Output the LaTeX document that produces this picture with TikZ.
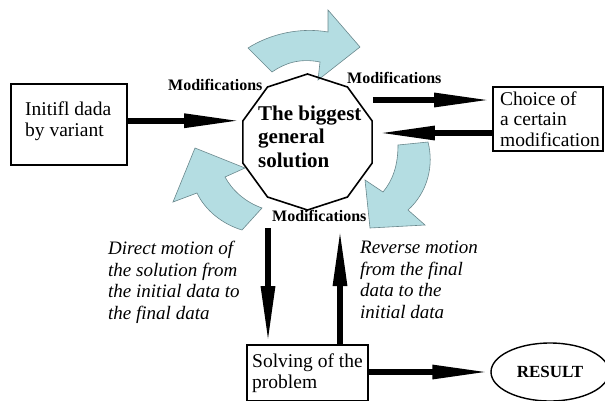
\documentclass[tikz,border=0pt]{standalone}
\usepackage{fontspec}
\setmainfont{Liberation Serif}
\usetikzlibrary{arrows.meta,shapes.geometric}
\definecolor{flow}{RGB}{180,221,226}
\definecolor{flowline}{RGB}{105,135,140}
\begin{document}
\begin{tikzpicture}[x=1pt,y=-1pt,
  box/.style={draw,line width=1.6pt,inner sep=0pt,minimum width=#1},
  txt/.style={font=\fontsize{19.5}{20.5}\selectfont,align=left,inner sep=0pt,anchor=base west},
  note/.style={font=\fontsize{19}{21.5}\selectfont\itshape,align=left,inner sep=0pt,anchor=base west},
  modlabel/.style={font=\fontsize{16}{18}\selectfont\bfseries,inner sep=0pt,anchor=base west},
  bigarrow/.style={line width=6pt,-{Triangle[length=58pt,width=13pt]}},
  flowarrow/.style={fill=flow,draw=flowline,line width=0.6pt,line join=miter}]
\useasboundingbox (0,0) rectangle (605,400);

% light blue circular arrows
\path[flowarrow] (248,48) .. controls (270,34) and (300,27) .. (328,32)
  -- (328,10) -- (360,47) -- (318,80) -- (320,62)
  .. controls (300,58) and (285,63) .. (272,72) -- cycle;
\path[flowarrow] (428,142) .. controls (434,165) and (428,192) .. (408,210)
  -- (425,225) -- (370,228) -- (365,180) -- (383,192)
  .. controls (393,180) and (398,165) .. (398,145) -- cycle;
\path[flowarrow] (262,208) .. controls (245,202) and (232,190) .. (225,177)
  -- (245,168) -- (195,148) -- (173,202) -- (197,193)
  .. controls (205,210) and (222,224) .. (242,230) -- cycle;

% central decagon
\node[draw,line width=1.6pt,regular polygon,regular polygon sides=10,
  regular polygon rotate=18,minimum size=136pt,inner sep=0pt] (poly) at (307.5,142) {};
\node[font=\fontsize{21}{23.5}\selectfont\bfseries,align=left,inner sep=0pt,anchor=base west]
  (ptext) at (258,167) {The biggest\\general\\solution};

% boxes
\node[box=116pt,minimum height=81pt] (box1) at (69,124.5) {};
\node[txt] (box1text) at (25,136) {Initifl dada\\by variant};
\node[box=110pt,minimum height=64pt] (box2) at (548,119) {};
\node[txt] (box2text) at (500,146) {Choice of\\a certain\\modification};
\node[box=121pt,minimum height=56pt] (box3) at (307.5,373) {};
\node[txt] (box3text) at (252,388) {Solving of the\\problem};
\node[draw,line width=1.4pt,ellipse,minimum width=118pt,minimum height=58pt,inner sep=0pt,
  font=\fontsize{17}{19}\selectfont\bfseries] (res) at (550,372) {RESULT};

% labels
\node[modlabel] (mod1) at (168,90) {Modifications};
\node[modlabel] (mod2) at (347,83) {Modifications};
\node[modlabel] (mod3) at (272,221) {Modifications};
\node[note] (direct) at (108,319) {Direct motion of\\the solution from\\the initial data to\\the final data};
\node[note] (reverse) at (360,318) {Reverse motion\\from the final\\data to the\\initial data};

% connectors
\coordinate (dtop) at (268,228);
\coordinate (utop) at (340,228);
\draw[bigarrow] (box1.east |- poly.162) -- (poly.162);
\draw[bigarrow] ([yshift=42pt]poly.east) -- ([yshift=42pt]poly.east -| box2.west);
\draw[bigarrow] ([yshift=9pt]poly.east -| box2.west) -- ([yshift=9pt,xshift=4pt]poly.east);
\draw[bigarrow] (dtop) -- (dtop |- box3.north);
\draw[bigarrow] (utop |- box3.north) -- (utop);
\draw[bigarrow] (box3.east |- res.west) -- (res.west);
\end{tikzpicture}
\end{document}
